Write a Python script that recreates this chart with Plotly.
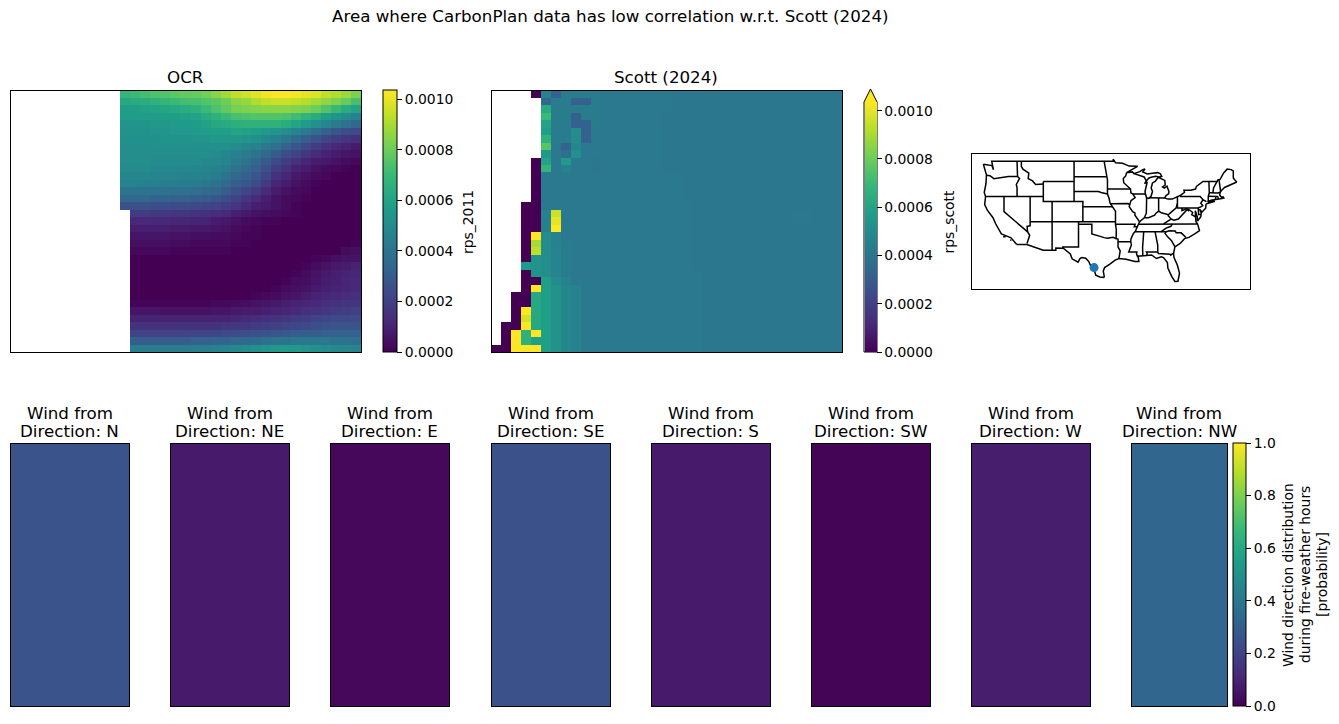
import plotly.graph_objects as go

W, H = 1339, 724
N = None
FONT = "DejaVu Sans"

# Regridded rps fields, in units of 1e-5, north row first
OCR_E5 = [
[N,N,N,N,N,N,N,N,N,N,N,68,70,72,74,75,77,78,79,81,85,89,94,96,99,102,103,103,102,100,98,94,91,88,83],
[N,N,N,N,N,N,N,N,N,N,N,62,63,64,66,68,70,72,73,75,77,80,85,87,91,94,95,95,94,92,89,86,83,79,73],
[N,N,N,N,N,N,N,N,N,N,N,58,58,59,60,61,62,64,66,70,74,78,82,83,84,85,85,85,84,83,80,75,70,64,60],
[N,N,N,N,N,N,N,N,N,N,N,57,57,57,57,58,58,59,60,63,66,70,73,74,75,75,75,74,71,67,63,58,54,50,46],
[N,N,N,N,N,N,N,N,N,N,N,54,54,54,55,55,56,56,57,59,62,63,65,66,66,66,66,64,60,56,52,48,43,39,35],
[N,N,N,N,N,N,N,N,N,N,N,53,53,53,54,54,55,55,56,57,58,58,60,59,58,56,54,51,47,42,37,32,28,25,23],
[N,N,N,N,N,N,N,N,N,N,N,52,52,52,52,53,53,53,54,54,55,55,55,54,52,49,46,41,36,31,26,22,19,16,14],
[N,N,N,N,N,N,N,N,N,N,N,51,51,51,52,52,52,52,52,52,52,52,50,48,46,42,38,33,28,23,19,15,12,10,8],
[N,N,N,N,N,N,N,N,N,N,N,51,51,51,51,51,51,51,51,51,50,48,46,43,40,35,30,25,21,17,13,10,8,6,5],
[N,N,N,N,N,N,N,N,N,N,N,51,51,51,50,50,50,50,50,49,49,47,43,39,35,29,23,19,15,11,8,7,5,3,2],
[N,N,N,N,N,N,N,N,N,N,N,50,50,50,49,49,49,49,48,47,46,44,39,36,32,26,19,15,10,8,5,3,2,1,0],
[N,N,N,N,N,N,N,N,N,N,N,48,48,48,47,47,47,46,46,45,43,40,35,32,28,22,15,11,7,5,3,2,0,0,0],
[N,N,N,N,N,N,N,N,N,N,N,46,46,45,45,44,44,43,43,41,39,36,31,28,24,18,11,8,5,3,1,0,0,0,0],
[N,N,N,N,N,N,N,N,N,N,N,40,40,40,39,39,38,38,37,36,34,31,26,22,18,13,8,5,3,2,0,0,0,0,0],
[N,N,N,N,N,N,N,N,N,N,N,34,34,34,33,33,32,32,31,30,28,25,21,17,13,9,5,3,2,1,0,0,0,0,0],
[N,N,N,N,N,N,N,N,N,N,N,26,26,26,25,25,24,24,23,22,21,19,16,12,9,7,5,3,1,0,0,0,0,0,0],
[N,N,N,N,N,N,N,N,N,N,N,N,18,18,17,17,16,16,15,14,13,12,9,7,5,4,3,2,1,0,0,0,0,0,0],
[N,N,N,N,N,N,N,N,N,N,N,N,12,12,12,12,11,11,10,10,8,7,5,3,2,1,1,0,0,0,0,0,0,0,0],
[N,N,N,N,N,N,N,N,N,N,N,N,9,9,9,9,8,8,7,7,6,5,3,2,1,0,0,0,0,0,0,0,0,0,0],
[N,N,N,N,N,N,N,N,N,N,N,N,6,6,6,6,5,5,4,4,3,3,2,1,1,0,0,0,0,0,0,0,0,0,0],
[N,N,N,N,N,N,N,N,N,N,N,N,4,4,4,4,3,3,2,2,2,2,1,1,0,0,0,0,0,0,0,0,0,0,1],
[N,N,N,N,N,N,N,N,N,N,N,N,2,2,2,2,1,1,1,1,1,1,0,0,0,0,0,0,0,0,0,0,0,3,4],
[N,N,N,N,N,N,N,N,N,N,N,N,0,0,0,0,0,0,0,0,0,0,0,0,0,0,0,0,0,0,1,2,4,5,5],
[N,N,N,N,N,N,N,N,N,N,N,N,0,0,0,0,0,0,0,0,0,0,0,0,0,0,0,0,0,1,3,5,7,8,10],
[N,N,N,N,N,N,N,N,N,N,N,N,0,0,0,0,0,0,0,0,0,0,0,0,0,0,0,0,1,3,5,7,9,10,11],
[N,N,N,N,N,N,N,N,N,N,N,N,0,0,0,0,0,0,0,0,0,0,0,0,0,0,0,1,3,4,6,8,9,11,12],
[N,N,N,N,N,N,N,N,N,N,N,N,0,0,0,0,0,0,0,0,0,0,0,0,0,0,1,3,4,5,7,9,10,11,12],
[N,N,N,N,N,N,N,N,N,N,N,N,0,0,0,0,0,0,0,0,0,0,0,0,1,2,3,5,6,8,10,11,12,13,14],
[N,N,N,N,N,N,N,N,N,N,N,N,1,1,1,1,1,1,1,1,2,2,3,4,5,6,7,9,10,11,12,14,15,16,16],
[N,N,N,N,N,N,N,N,N,N,N,N,6,6,6,5,5,5,5,5,6,6,7,8,8,9,10,11,12,14,15,17,18,19,20],
[N,N,N,N,N,N,N,N,N,N,N,N,10,10,10,10,10,10,10,10,10,10,11,12,13,14,15,16,18,19,21,22,23,23,24],
[N,N,N,N,N,N,N,N,N,N,N,N,15,15,15,15,15,15,15,15,15,16,17,17,18,19,20,21,22,23,25,26,27,27,27],
[N,N,N,N,N,N,N,N,N,N,N,N,21,21,21,21,21,21,22,22,22,23,24,25,26,27,28,29,31,31,31,32,32,32,32],
[N,N,N,N,N,N,N,N,N,N,N,N,31,31,31,31,31,31,32,32,33,33,34,35,36,38,39,40,41,41,41,41,40,39,38],
[N,N,N,N,N,N,N,N,N,N,N,N,44,44,44,44,44,44,44,45,46,47,49,50,52,54,55,56,56,54,52,50,49,48,47],
]

SCOTT_E5 = [
[N,N,N,N,0,46,32,43,43,43,43,42,42,42,42,42,42,42,41,41,41,41,41,41,41,41,41,41,41,41,41,41,41,41,41],
[N,N,N,N,N,34,43,43,32,32,43,42,42,42,42,42,42,42,41,41,41,41,41,41,41,41,41,41,41,41,41,41,41,41,41],
[N,N,N,N,N,64,43,43,43,43,43,42,42,42,42,42,42,42,41,41,41,41,41,41,41,41,41,41,41,41,41,41,41,41,41],
[N,N,N,N,N,70,43,43,32,43,43,42,42,42,42,42,42,41,41,41,41,41,41,41,41,41,41,41,41,41,41,41,41,41,41],
[N,N,N,N,N,60,43,43,32,32,43,42,42,42,42,42,42,41,41,41,41,41,41,41,41,41,41,41,41,41,41,41,41,41,41],
[N,N,N,N,N,58,43,43,50,32,42,42,42,42,42,42,42,41,41,41,41,41,41,41,41,41,41,41,41,41,41,41,41,41,41],
[N,N,N,N,N,66,43,43,50,32,42,42,42,42,42,42,42,41,41,41,41,41,41,41,41,41,41,41,41,41,41,41,41,41,41],
[N,N,N,N,N,76,42,33,48,42,42,42,42,42,42,42,42,41,41,41,41,41,41,41,41,41,41,41,41,41,41,41,41,41,41],
[N,N,N,N,N,55,42,37,52,42,42,42,42,42,42,42,42,41,41,41,41,41,41,41,41,41,41,41,41,41,41,41,41,41,41],
[N,N,N,N,0,60,42,56,42,42,41,42,42,42,42,42,42,41,41,41,41,41,41,41,41,41,41,41,41,41,41,41,41,41,41],
[N,N,N,N,0,68,42,46,42,42,41,42,42,42,42,42,42,41,41,41,41,41,41,41,41,41,41,41,41,41,41,41,41,41,41],
[N,N,N,N,0,42,42,42,42,42,42,42,42,42,42,42,42,42,42,41,41,41,41,41,41,41,41,41,41,41,41,41,41,41,41],
[N,N,N,N,0,42,42,42,42,42,42,42,42,42,42,42,42,42,42,41,41,41,41,41,41,41,41,41,41,41,41,41,41,41,41],
[N,N,N,N,0,42,42,42,42,42,42,42,42,42,42,42,42,42,42,41,41,41,41,41,41,41,41,41,41,41,41,41,41,41,41],
[N,N,N,N,0,42,42,42,42,42,42,42,42,42,42,42,42,42,42,41,41,41,41,41,41,41,41,41,41,41,41,41,41,41,41],
[N,N,N,0,0,42,42,42,42,42,42,42,42,42,42,42,42,42,42,42,41,41,41,41,41,41,41,41,41,41,41,41,41,41,41],
[N,N,N,0,0,45,96,42,42,42,42,42,42,42,42,42,42,42,42,42,41,41,41,41,41,41,41,41,41,41,42,42,41,41,41],
[N,N,N,0,0,45,100,42,42,42,42,42,42,42,42,42,42,42,42,42,41,41,41,41,41,41,41,41,41,41,42,42,41,41,41],
[N,N,N,0,0,45,110,42,42,42,42,42,42,42,42,42,42,42,42,42,41,41,41,41,41,41,41,41,41,41,41,41,41,41,41],
[N,N,N,0,110,50,46,42,42,42,42,42,42,42,42,42,42,42,42,42,41,41,41,41,41,41,41,41,41,41,41,41,41,41,41],
[N,N,N,0,90,50,46,43,42,42,42,42,42,42,42,42,42,42,42,42,41,41,41,41,41,41,41,41,41,41,41,41,41,41,41],
[N,N,N,0,93,50,47,43,42,42,42,42,42,42,42,42,42,42,42,42,41,41,41,41,41,41,41,41,41,41,41,41,41,41,41],
[N,N,N,0,53,51,47,43,42,42,42,42,42,42,42,42,42,42,42,42,41,41,41,41,41,41,41,41,41,41,41,41,41,41,41],
[N,N,N,56,53,51,47,43,42,42,42,42,42,42,42,42,42,42,42,42,41,41,41,41,41,41,41,41,41,41,41,41,41,41,41],
[N,N,N,0,53,51,47,43,42,42,42,42,42,42,42,42,42,42,42,42,42,41,41,41,41,41,41,41,41,41,41,41,41,41,41],
[N,N,N,0,0,58,50,46,42,42,42,42,42,42,42,42,42,42,42,42,42,41,41,41,41,41,41,41,41,41,41,41,41,41,41],
[N,N,N,0,110,58,53,48,46,42,42,42,42,42,42,42,42,42,42,42,42,41,41,41,41,41,41,41,41,41,41,41,41,41,41],
[N,N,0,0,62,58,53,48,46,42,42,42,42,42,42,42,42,42,42,42,42,41,41,41,41,41,41,41,41,41,41,41,41,41,41],
[N,N,0,0,62,58,53,48,46,42,42,42,42,42,42,42,42,42,42,42,42,41,41,41,41,41,41,41,41,41,41,41,41,41,41],
[N,N,0,110,62,58,53,48,46,42,42,42,42,42,42,42,42,42,42,42,42,41,41,41,41,41,41,41,41,41,41,41,41,41,41],
[N,N,0,97,62,58,53,48,46,42,42,42,42,42,42,42,42,42,42,42,42,41,41,41,41,41,41,41,41,41,41,41,41,41,41],
[N,0,0,110,62,58,53,48,46,42,42,42,42,42,42,42,42,42,42,42,42,41,41,41,41,41,41,41,41,41,41,41,41,41,41],
[N,0,110,66,110,58,53,48,46,42,42,42,42,42,42,42,42,42,42,42,42,41,41,41,41,41,41,41,41,41,41,41,41,41,41],
[N,0,110,66,58,58,53,48,46,42,42,42,42,42,42,42,42,42,42,42,42,41,41,41,41,41,41,41,41,41,41,41,41,41,41],
[0,0,110,110,110,58,53,48,46,42,42,42,42,42,42,42,42,42,42,42,42,41,41,41,41,41,41,41,41,41,41,41,41,41,41],
]
RPS_MAX = 0.001036

RPS_TICKS = [0.0, 0.0002, 0.0004, 0.0006, 0.0008, 0.001]
RPS_TICK_LABELS = ["0.0000", "0.0002", "0.0004", "0.0006", "0.0008", "0.0010"]
PROB_TICKS = [0.0, 0.2, 0.4, 0.6, 0.8, 1.0]
PROB_TICK_LABELS = ["0.0", "0.2", "0.4", "0.6", "0.8", "1.0"]

# Wind direction distribution during fire-weather hours
WIND_DIRECTIONS = ["N", "NE", "E", "SE", "S", "SW", "W", "NW"]
WIND_PROBABILITY = [0.26, 0.07, 0.02, 0.25, 0.07, 0.01, 0.08, 0.33]

# Site marked on the map (lon, lat)
SITE_LON = [-99.5]
SITE_LAT = [27.9]

# Simplified US coastline and state borders as (lon, lat) polylines
US_LINES = [
 [(-124.7,48.4),(-124.1,46.9),(-124.0,46.3),(-124.1,44.6),(-124.5,42.8),(-124.2,42.0),(-124.4,40.4),(-123.8,39.3),(-122.5,37.8),(-121.9,36.6),(-120.6,34.6),(-119.2,34.1),(-118.4,33.8),(-117.1,32.5)],
 [(-120.2,34.0),(-119.6,34.0)],
 [(-118.6,33.4),(-118.3,33.35)],
 [(-124.7,48.4),(-123.2,48.15),(-122.75,48.15),(-122.4,47.3),(-122.5,48.0),(-122.8,49.0),(-95.15,49.0),(-95.15,49.4),(-94.6,48.7),(-93.0,48.6),(-91.5,48.05),(-89.6,48.0),(-92.1,46.75),(-90.8,46.9),(-90.4,46.55),(-89.1,46.95),(-88.4,47.35),(-87.9,47.47),(-88.4,46.9),(-87.4,46.5),(-86.2,46.65),(-85.0,46.75),(-84.4,46.5),(-84.1,46.0),(-84.7,45.9),(-85.5,46.05),(-86.5,45.85),(-87.0,45.7),(-87.6,45.1),(-88.0,44.55),(-87.4,44.9),(-87.55,44.2),(-87.9,43.0),(-87.8,42.5),(-87.55,41.75),(-87.0,41.65),(-86.5,42.1),(-86.2,43.0),(-86.5,43.7),(-86.2,44.7),(-85.6,45.0),(-85.0,45.7),(-84.75,45.78),(-83.4,45.2),(-83.3,44.3),(-83.9,43.9),(-83.5,43.7),(-82.9,44.05),(-82.45,43.0),(-82.5,42.6),(-83.1,42.2),(-83.45,41.73),(-82.7,41.5),(-81.7,41.5),(-80.5,42.0),(-79.76,42.27),(-78.9,42.85),(-79.05,43.27),(-77.5,43.25),(-76.4,43.5),(-76.2,44.0),(-75.0,44.95),(-74.7,45.0),(-71.5,45.0),(-71.3,45.3),(-70.8,45.4),(-70.3,46.2),(-70.0,46.7),(-69.2,47.45),(-68.3,47.35),(-67.8,47.07),(-67.8,45.7),(-67.45,45.3),(-67.0,44.9)],
 [(-67.0,44.9),(-68.5,44.3),(-69.8,43.8),(-70.6,43.1),(-70.8,42.8),(-70.9,42.3),(-70.6,41.95),(-70.0,41.8),(-70.2,42.05),(-69.95,41.7),(-70.7,41.55),(-71.4,41.45),(-72.9,41.25),(-73.7,40.95),(-72.0,41.05),(-73.9,40.55),(-74.0,40.5),(-74.1,39.7),(-74.9,38.95),(-75.5,39.5),(-75.1,38.75),(-75.2,38.0),(-75.95,37.15),(-76.0,37.95),(-76.45,39.2),(-76.4,38.0),(-76.3,37.0),(-75.95,36.6),(-75.5,35.25),(-76.5,34.65),(-77.9,33.9),(-78.9,33.65),(-79.9,32.7),(-81.1,32.0),(-81.4,30.7),(-81.3,29.9),(-80.55,28.4),(-80.05,26.8),(-80.4,25.2),(-81.1,25.15),(-81.8,26.1),(-82.7,27.8),(-82.8,28.9),(-83.7,29.9),(-84.2,30.05),(-85.3,29.7),(-86.4,30.4),(-87.5,30.3),(-88.1,30.25),(-89.3,30.3),(-89.6,30.15),(-89.4,29.8),(-89.3,29.1),(-90.2,29.1),(-91.3,29.4),(-92.2,29.55),(-93.85,29.7),(-94.7,29.4),(-95.9,28.6),(-97.1,27.9),(-97.4,27.2),(-97.15,25.95)],
 [(-97.15,25.95),(-98.2,26.05),(-99.1,26.4),(-99.5,27.5),(-100.3,28.3),(-100.7,29.1),(-101.4,29.77),(-102.3,29.88),(-102.7,29.7),(-103.15,28.98),(-104.5,29.65),(-104.9,30.6),(-106.5,31.75),(-108.2,31.78),(-108.2,31.33),(-111.07,31.33),(-114.8,32.5),(-117.1,32.5)],
 [(-124.0,46.25),(-123.2,46.15),(-122.3,45.55),(-121.2,45.65),(-119.3,45.93),(-119.0,46.0),(-116.92,46.0)],
 [(-117.03,49.0),(-117.03,46.4),(-116.92,46.0),(-116.45,45.6),(-116.85,44.9),(-117.2,44.4),(-117.03,43.8),(-117.03,42.0)],
 [(-124.2,42.0),(-111.05,42.0)],
 [(-120.0,42.0),(-120.0,39.0),(-114.63,35.0),(-114.15,34.3),(-114.5,33.4),(-114.75,32.7)],
 [(-114.05,42.0),(-114.05,36.2),(-114.75,36.1),(-114.63,35.0)],
 [(-114.05,37.0),(-94.62,37.0)],
 [(-109.05,41.0),(-109.05,31.33)],
 [(-111.05,45.0),(-111.05,41.0),(-102.05,41.0),(-102.05,37.0)],
 [(-111.05,44.5),(-112.8,44.4),(-113.5,45.1),(-114.5,45.55),(-114.35,46.65),(-115.7,47.45),(-116.05,48.0),(-116.05,49.0)],
 [(-111.05,45.0),(-104.05,45.0)],
 [(-104.05,49.0),(-104.05,41.0)],
 [(-104.05,45.94),(-96.56,45.94)],
 [(-104.05,43.0),(-98.5,43.0),(-97.9,42.8),(-96.45,42.5)],
 [(-102.05,40.0),(-95.3,40.0)],
 [(-103.04,37.0),(-103.04,32.0),(-106.6,32.0),(-106.5,31.75)],
 [(-103.04,36.5),(-100.0,36.5),(-100.0,34.56),(-99.2,34.3),(-98.1,34.1),(-97.2,33.85),(-96.4,33.75),(-95.2,33.9),(-94.48,33.64)],
 [(-94.62,37.0),(-94.62,36.5),(-94.43,35.4),(-94.48,33.64),(-94.04,33.55),(-94.04,32.0),(-93.55,31.2),(-93.7,30.3),(-93.85,29.7)],
 [(-94.04,33.02),(-91.15,33.02)],
 [(-92.1,46.75),(-92.3,46.1),(-92.85,45.6),(-92.75,44.75),(-91.2,43.5),(-91.1,42.7),(-90.65,42.5),(-90.15,41.8),(-91.1,41.2),(-91.4,40.4),(-91.5,40.0),(-90.7,39.0),(-90.2,38.75),(-90.2,38.3),(-89.5,37.3),(-89.13,37.0),(-89.4,36.5),(-89.7,36.0),(-90.1,35.1),(-90.6,34.6),(-91.1,33.6),(-91.15,33.02),(-91.0,32.4),(-91.6,31.0),(-89.75,31.0),(-89.85,30.65),(-89.6,30.15)],
 [(-96.45,43.5),(-91.2,43.5)],
 [(-97.2,49.0),(-96.85,47.5),(-96.56,45.94),(-96.45,45.3),(-96.45,42.5),(-96.1,41.7),(-95.85,40.7),(-95.3,40.0),(-94.62,39.1),(-94.62,37.0)],
 [(-95.77,40.58),(-91.73,40.6),(-91.4,40.4)],
 [(-94.62,36.5),(-90.15,36.5),(-90.35,36.0),(-89.7,36.0)],
 [(-90.65,42.5),(-87.8,42.5)],
 [(-90.4,46.55),(-88.1,45.9),(-87.6,45.1)],
 [(-87.53,41.72),(-87.53,39.3),(-87.6,38.7),(-88.05,37.8)],
 [(-89.13,37.0),(-88.05,37.8),(-87.1,37.8),(-86.3,38.0),(-85.7,38.3),(-85.4,38.7),(-84.8,39.1),(-84.2,38.8),(-83.2,38.6),(-82.6,38.4),(-81.8,39.0),(-80.85,39.7),(-80.52,40.64)],
 [(-84.8,39.1),(-84.8,41.76)],
 [(-87.0,41.76),(-84.8,41.76),(-83.45,41.73)],
 [(-80.52,42.0),(-80.52,39.72),(-75.79,39.72),(-75.4,39.8),(-75.1,40.0),(-74.75,40.2),(-75.2,40.7),(-74.7,41.36),(-73.9,41.0)],
 [(-79.76,42.27),(-79.76,42.0),(-75.35,42.0),(-74.7,41.36)],
 [(-73.5,41.1),(-73.5,42.05),(-73.27,42.75),(-73.35,45.0)],
 [(-73.5,42.05),(-71.38,42.02),(-71.15,41.5)],
 [(-71.8,42.02),(-71.85,41.32)],
 [(-73.27,42.75),(-71.3,42.7),(-70.8,42.85)],
 [(-72.45,42.73),(-72.3,43.7),(-71.5,45.0)],
 [(-70.7,43.1),(-71.05,45.3)],
 [(-89.4,36.5),(-88.05,36.5),(-88.05,36.65),(-83.68,36.6),(-81.68,36.59),(-75.9,36.55)],
 [(-83.68,36.6),(-82.3,37.3),(-81.97,37.54),(-82.6,38.2),(-82.6,38.4)],
 [(-81.97,37.54),(-81.3,37.3),(-80.3,37.55),(-79.3,38.45),(-78.35,39.4),(-77.83,39.13)],
 [(-79.48,39.72),(-79.48,39.2),(-78.4,39.6),(-77.75,39.33),(-77.05,38.85),(-77.25,38.4),(-76.3,37.95)],
 [(-75.79,39.72),(-75.7,38.46),(-75.05,38.45)],
 [(-81.68,36.59),(-82.0,36.1),(-83.1,35.75),(-84.32,35.0)],
 [(-90.1,35.0),(-83.11,35.0),(-82.3,35.2),(-81.05,35.15),(-80.8,34.82),(-79.67,34.8),(-78.55,33.86)],
 [(-83.11,35.0),(-83.35,34.7),(-82.75,34.0),(-81.9,33.3),(-81.1,32.05)],
 [(-85.6,34.98),(-85.18,32.87),(-85.0,32.3),(-85.0,31.0),(-84.86,30.7),(-82.2,30.57),(-82.05,30.36),(-81.5,30.72)],
 [(-87.5,30.3),(-87.4,30.65),(-87.6,31.0),(-85.0,31.0)],
 [(-88.2,35.0),(-88.45,31.9),(-88.4,30.25)],
]
MAP_LON_RANGE = [-127.4, -64.0]
MAP_LAT_RANGE = [23.65, 50.55]

# Panel frames in pixels: left, right, top, bottom
OCR_BOX = (10.5, 361, 90.5, 352)
SCOTT_BOX = (491.5, 842, 90.5, 352)
MAP_BOX = (971.5, 1250, 153.5, 289)
WIND_BOXES = [(10.5, 129), (170.5, 289), (330.5, 449), (491.5, 610), (651.5, 770), (811.5, 930), (971.5, 1090), (1131.5, 1227)]
WIND_TOP, WIND_BOTTOM = 443.5, 706
GRID_X_RANGE = [-0.45, 34.5]
GRID_Y_RANGE = [34.5, -0.45]


def px(v):
    return v / W


def py(v):
    return 1 - v / H


fig = go.Figure()
layout_axes = {}
annotations = []
axis_no = [0]


def add_axes(box, xrange, yrange):
    axis_no[0] += 1
    n = axis_no[0]
    l, r, t, b = box
    common = dict(showgrid=False, zeroline=False, showticklabels=False, ticks="",
                  showline=True, mirror=True, linecolor="black", linewidth=1, fixedrange=True)
    layout_axes[f"xaxis{n}"] = dict(domain=[px(l), px(r)], range=xrange, anchor=f"y{n}", **common)
    layout_axes[f"yaxis{n}"] = dict(domain=[py(b), py(t)], range=yrange, anchor=f"x{n}", **common)
    return f"x{n}", f"y{n}"


def colorbar(left, right, top, bottom, ticks, labels, outline=1):
    return dict(x=px(left), xanchor="left", xpad=0, ypad=0, thickness=right - left, thicknessmode="pixels",
                y=py(bottom), yanchor="bottom", len=(bottom - top) / H, lenmode="fraction",
                tickmode="array", tickvals=ticks, ticktext=labels, ticks="outside", ticklen=5, tickwidth=1,
                tickcolor="black", outlinewidth=outline, outlinecolor="black",
                tickfont=dict(family=FONT, size=13.9, color="black"))


def label(x, y, text, size, angle=0, anchor="center"):
    annotations.append(dict(xref="paper", yref="paper", x=px(x), y=py(y), text=text, showarrow=False,
                            xanchor=anchor, yanchor="middle", textangle=angle, borderpad=0,
                            font=dict(family=FONT, size=size, color="black")))


def field_to_rps(rows):
    return [[None if v is None else v * 1e-5 for v in row] for row in rows]


# Top row: the two rps fields
xa, ya = add_axes(OCR_BOX, GRID_X_RANGE, GRID_Y_RANGE)
fig.add_trace(go.Heatmap(z=field_to_rps(OCR_E5), xaxis=xa, yaxis=ya, colorscale="Viridis", zmin=0, zmax=RPS_MAX,
                         hoverongaps=False, colorbar=colorbar(383, 397, 90, 352, RPS_TICKS, RPS_TICK_LABELS)))
xa, ya = add_axes(SCOTT_BOX, GRID_X_RANGE, GRID_Y_RANGE)
fig.add_trace(go.Heatmap(z=field_to_rps(SCOTT_E5), xaxis=xa, yaxis=ya, colorscale="Viridis", zmin=0, zmax=RPS_MAX,
                         hoverongaps=False, colorbar=colorbar(864.5, 876.5, 102, 352, RPS_TICKS, RPS_TICK_LABELS, outline=0)))

# Locator map
xa, ya = add_axes(MAP_BOX, MAP_LON_RANGE, MAP_LAT_RANGE)
for line in US_LINES:
    fig.add_trace(go.Scatter(x=[p[0] for p in line], y=[p[1] for p in line], mode="lines", xaxis=xa, yaxis=ya,
                             line=dict(color="black", width=1.5), hoverinfo="skip", showlegend=False))
fig.add_trace(go.Scatter(x=SITE_LON, y=SITE_LAT, mode="markers", xaxis=xa, yaxis=ya, showlegend=False,
                         marker=dict(color="#1f77b4", size=9)))

# Bottom row: one panel per wind direction
for i, (name, prob) in enumerate(zip(WIND_DIRECTIONS, WIND_PROBABILITY)):
    l, r = WIND_BOXES[i]
    xa, ya = add_axes((l, r, WIND_TOP, WIND_BOTTOM), [-0.5, 0.5], [-0.5, 0.5])
    last = i == len(WIND_DIRECTIONS) - 1
    trace = dict(z=[[prob]], xaxis=xa, yaxis=ya, colorscale="Viridis", zmin=0, zmax=1, showscale=last)
    if last:
        trace["colorbar"] = colorbar(1233, 1246, 443, 706, PROB_TICKS, PROB_TICK_LABELS)
    fig.add_trace(go.Heatmap(**trace))
    label((l + r) / 2, 412.5, "Wind from", 16.7)
    label((l + r) / 2, 430.5, f"Direction: {name}", 16.7)

label(610, 16, "Area where CarbonPlan data has low correlation w.r.t. Scott (2024)", 16.7)
label(185, 76.5, "OCR", 16.7)
label(666, 76.5, "Scott (2024)", 16.7)
label(468, 222, "rps_2011", 13.9, angle=-90)
label(948.5, 222, "rps_scott", 13.9, angle=-90)
label(1288, 575, "Wind direction distribution", 13.9, angle=-90)
label(1305, 575, "during fire-weather hours", 13.9, angle=-90)
label(1322, 575, "[probability]", 13.9, angle=-90)

# Scott colour bar frame with its over-range arrowhead
shapes = [
    dict(type="path", xref="paper", yref="paper", fillcolor="#fde725", line=dict(width=0),
         path=f"M {px(864)},{py(102.5)} L {px(877)},{py(102.5)} L {px(870.5)},{py(89)} Z"),
    dict(type="path", xref="paper", yref="paper", line=dict(color="black", width=1),
         path=f"M {px(864)},{py(352)} L {px(864)},{py(102)} L {px(870.5)},{py(89)} L {px(877)},{py(102)} "
              f"L {px(877)},{py(352)} Z"),
]

fig.update_layout(width=W, height=H, margin=dict(l=0, r=0, t=0, b=0), paper_bgcolor="white", plot_bgcolor="white",
                  showlegend=False, annotations=annotations, shapes=shapes, **layout_axes)
fig.write_html("out.html")
